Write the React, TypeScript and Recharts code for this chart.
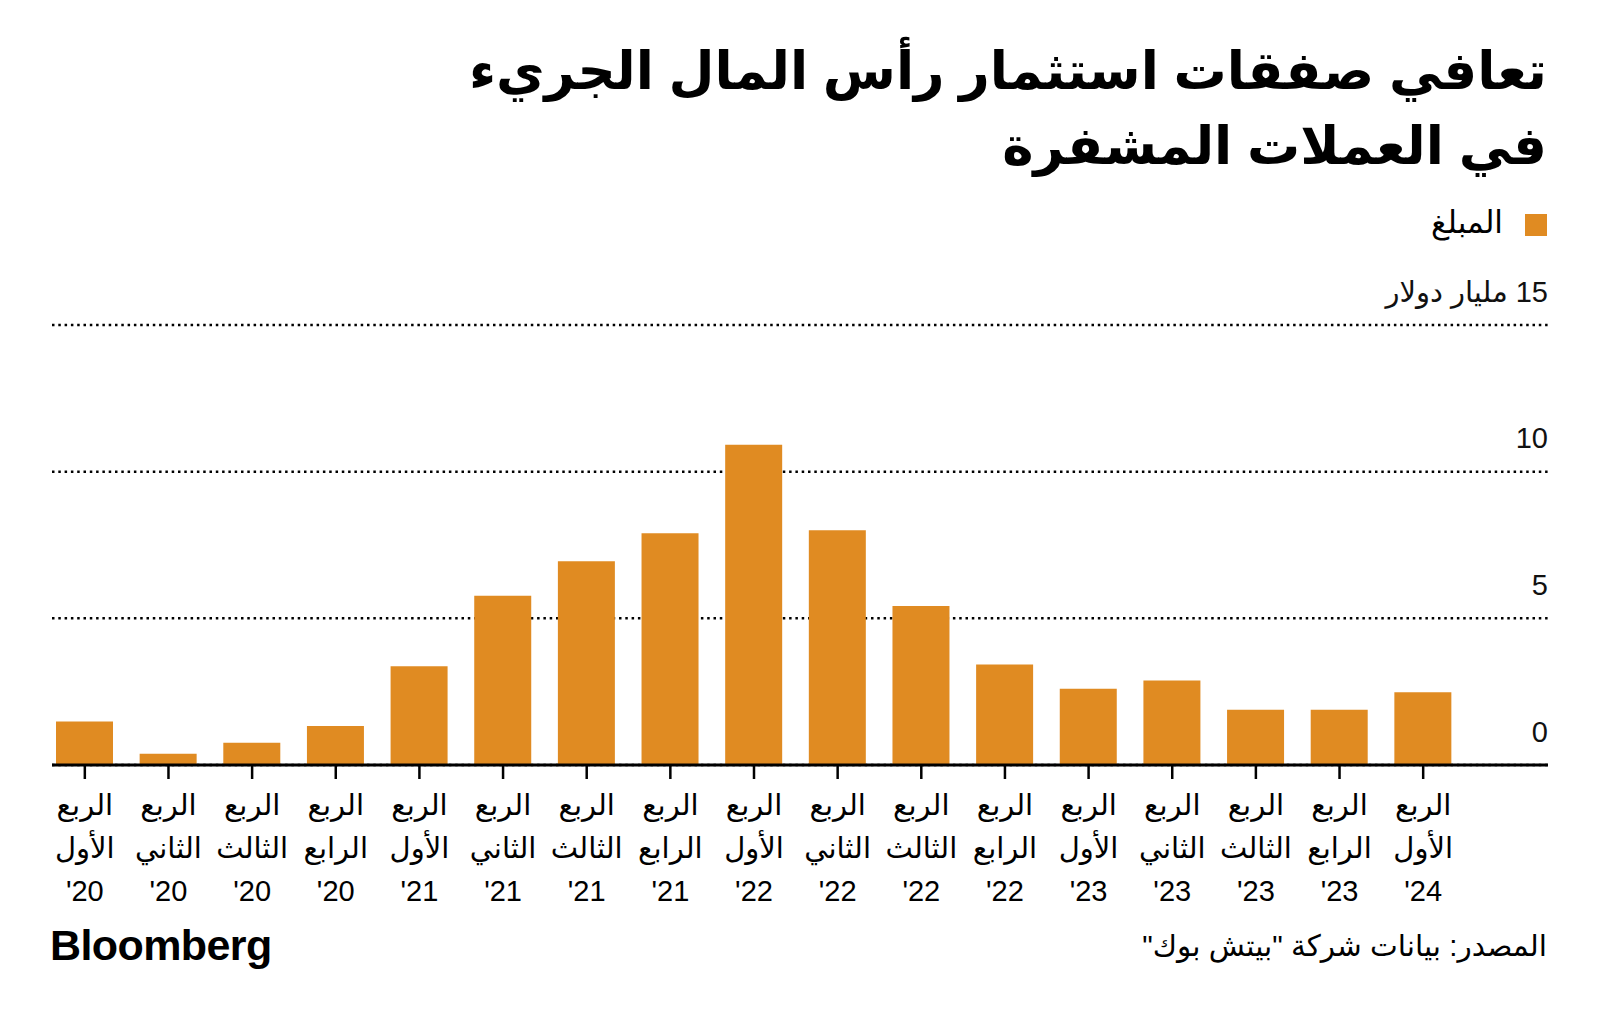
import { BarChart, Bar, XAxis, YAxis, CartesianGrid } from 'recharts';

const quarterWord = 'الربع';
const quarterLabels = [
  'الأول', 'الثاني', 'الثالث', 'الرابع',
  'الأول', 'الثاني', 'الثالث', 'الرابع',
  'الأول', 'الثاني', 'الثالث', 'الرابع',
  'الأول', 'الثاني', 'الثالث', 'الرابع',
  'الأول',
];
const yearLabels = [
  "'20", "'20", "'20", "'20",
  "'21", "'21", "'21", "'21",
  "'22", "'22", "'22", "'22",
  "'23", "'23", "'23", "'23",
  "'24",
];
// billions of dollars
const amounts = [1.48, 0.38, 0.76, 1.33, 3.37, 5.77, 6.95, 7.9, 10.92, 8.0, 5.42, 3.43, 2.6, 2.88, 1.88, 1.88, 2.48];

const yTicks = [0, 5, 10, 15];
const yUnit = 'مليار دولار';

const title = ['تعافي صفقات استثمار رأس المال الجريء', 'في العملات المشفرة'];
const legendLabel = 'المبلغ';
const source = 'المصدر: بيانات شركة "بيتش بوك"';

const ORANGE = '#E08B22';
const FONT = '"Liberation Sans", "DejaVu Sans", sans-serif';

const rows = amounts.map((v, i) => ({
  label: `${quarterLabels[i]} ${yearLabels[i]}`,
  quarter: quarterLabels[i],
  year: yearLabels[i],
  amount: v,
}));

const XTick = (p: any) => {
  const r = rows[p.index];
  return (
    <g transform={`translate(${p.x},${p.y})`}>
      <text textAnchor="middle" fontSize={29} fill="#000" fontFamily={FONT}>
        <tspan x={0} y={36}>{quarterWord}</tspan>
        <tspan x={0} y={79}>{r.quarter}</tspan>
        <tspan x={0} y={122}>{r.year}</tspan>
      </text>
    </g>
  );
};

const YTick = (p: any) => {
  const v = p.payload.value;
  const txt = v === yTicks[yTicks.length - 1] ? `\u200F${v} ${yUnit}` : String(v);
  return (
    <text x={p.x} y={p.y - 23.5} textAnchor="end" fontSize={29} fill="#111" fontFamily={FONT}>
      {txt}
    </text>
  );
};

export default function App() {
  return (
    <div style={{ position: 'absolute', left: 0, top: 0, width: 1600, height: 1024, background: '#fff', fontFamily: FONT }}>
      <div
        style={{
          position: 'absolute', right: 53, top: 33, direction: 'rtl', textAlign: 'right',
          fontSize: 53, lineHeight: '75px', fontWeight: 700, color: '#000', whiteSpace: 'nowrap',
        }}
      >
        {title.map((t) => (
          <div key={t}>{t}</div>
        ))}
      </div>

      <div style={{ position: 'absolute', left: 1525, top: 214, width: 22, height: 22, background: ORANGE }} />
      <div
        style={{
          position: 'absolute', right: 97, top: 205, fontSize: 31, lineHeight: '36px', direction: 'rtl', color: '#000',
        }}
      >
        {legendLabel}
      </div>

      <div style={{ position: 'absolute', left: 0, top: 0 }}>
        <BarChart width={1600} height={1024} data={rows} margin={{ top: 325, right: 51, bottom: 139, left: 52 }}>
          <CartesianGrid vertical={false} stroke="#000" strokeWidth={2.5} strokeDasharray="2.5 3.8" />
          <XAxis
            dataKey="label"
            height={120}
            padding={{ left: -9, right: 83 }}
            interval={0}
            axisLine={{ stroke: '#000', strokeWidth: 3 }}
            tickLine={{ stroke: '#000', strokeWidth: 2.5 }}
            tickSize={14}
            tickMargin={0}
            tick={<XTick />}
          />
          <YAxis
            orientation="right"
            width={1}
            domain={[0, 15]}
            ticks={yTicks}
            interval={0}
            axisLine={false}
            tickLine={false}
            tickSize={0}
            tickMargin={0}
            tick={<YTick />}
          />
          <Bar dataKey="amount" fill={ORANGE} barSize={57} isAnimationActive={false} />
        </BarChart>
      </div>

      <div
        style={{
          position: 'absolute', left: 50, top: 920, fontSize: 43, lineHeight: '50px', fontWeight: 700,
          letterSpacing: -0.6, color: '#000', fontFamily: '"Liberation Sans", Arial, sans-serif',
        }}
      >
        Bloomberg
      </div>
      <div
        style={{
          position: 'absolute', right: 53, top: 928, fontSize: 29.5, lineHeight: '36px', direction: 'rtl', color: '#000',
        }}
      >
        {source}
      </div>
    </div>
  );
}
